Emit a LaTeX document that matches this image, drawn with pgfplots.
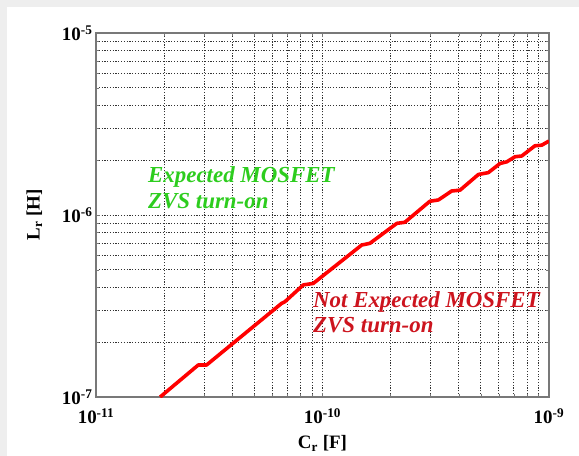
\documentclass[border=0pt]{standalone}
\usepackage{fontspec}
\setmainfont{Liberation Serif}
\usepackage{pgfplots}
\pgfplotsset{compat=1.18}
\definecolor{frameg}{RGB}{120,120,120}
\definecolor{expgreen}{RGB}{45,205,30}
\definecolor{nred}{RGB}{205,20,30}
\definecolor{bggray}{RGB}{238,238,238}
\begin{document}
\begin{tikzpicture}
\fill[bggray] (-96bp,-59bp) rectangle (483bp,397bp);
\fill[white] (-89bp,-59bp) rectangle (483bp,390bp);
\begin{axis}[
  at={(0,0)}, anchor=south west,
  scale only axis, width=453bp, height=364bp,
  xmode=log, ymode=log,
  xmin=1e-11, xmax=1e-9, ymin=1e-7, ymax=1e-5,
  grid=both,
  major grid style={black!80, dash pattern=on 1.2pt off 1.6pt, line width=0.85pt},
  minor grid style={black!80, dash pattern=on 1.2pt off 1.6pt, line width=0.85pt},
  axis line style={frameg, line width=1.2pt},
  every tick/.style={frameg},
  xtick={1e-11,1e-10,1e-9},
  xticklabels={\textbf{10\textsuperscript{-11}},\textbf{10\textsuperscript{-10}},\textbf{10\textsuperscript{-9}}},
  ytick={1e-7,1e-6,1e-5},
  yticklabels={\textbf{10\textsuperscript{-7}},\textbf{10\textsuperscript{-6}},\textbf{10\textsuperscript{-5}}},
  tick label style={font=\fontsize{19}{20}\selectfont},
  xticklabel style={yshift=-8bp},
  xlabel={\textbf{C\textsubscript{r} [F]}},
  ylabel={\textbf{L\textsubscript{r} [H]}},
  label style={font=\fontsize{19}{22}\selectfont},
  xlabel style={yshift=-5bp},
  ylabel style={yshift=13bp},
  clip=true,
]
\addplot[red, line width=3.6pt, line join=round] coordinates {
(1.92e-11,1.00e-7)
(2.83e-11,1.50e-7)
(3.08e-11,1.50e-7)
(6.60e-11,3.27e-7)
(6.83e-11,3.34e-7)
(8.23e-11,4.13e-7)
(9.11e-11,4.21e-7)
(1.49e-10,6.84e-7)
(1.62e-10,6.99e-7)
(2.13e-10,9.00e-7)
(2.31e-10,9.12e-7)
(2.98e-10,1.19e-6)
(3.25e-10,1.21e-6)
(3.72e-10,1.355e-6)
(4.05e-10,1.37e-6)
(4.88e-10,1.67e-6)
(5.40e-10,1.71e-6)
(6.08e-10,1.92e-6)
(6.51e-10,1.96e-6)
(7.08e-10,2.09e-6)
(7.58e-10,2.11e-6)
(8.67e-10,2.40e-6)
(9.29e-10,2.42e-6)
(1.00e-9,2.55e-6)
};
\node[anchor=base west, inner sep=0pt, text=expgreen, font=\fontsize{23}{26}\selectfont\bfseries\itshape] at (rel axis cs:0.1148,0.5907) {Expected MOSFET};
\node[anchor=base west, inner sep=0pt, text=expgreen, font=\fontsize{23}{26}\selectfont\bfseries\itshape] at (rel axis cs:0.1148,0.5192) {ZVS turn-on};
\node[anchor=base west, inner sep=0pt, text=nred, font=\fontsize{23}{26}\selectfont\bfseries\itshape] at (rel axis cs:0.479,0.2473) {Not Expected MOSFET};
\node[anchor=base west, inner sep=0pt, text=nred, font=\fontsize{23}{26}\selectfont\bfseries\itshape] at (rel axis cs:0.479,0.1786) {ZVS turn-on};
\end{axis}
\end{tikzpicture}
\end{document}
